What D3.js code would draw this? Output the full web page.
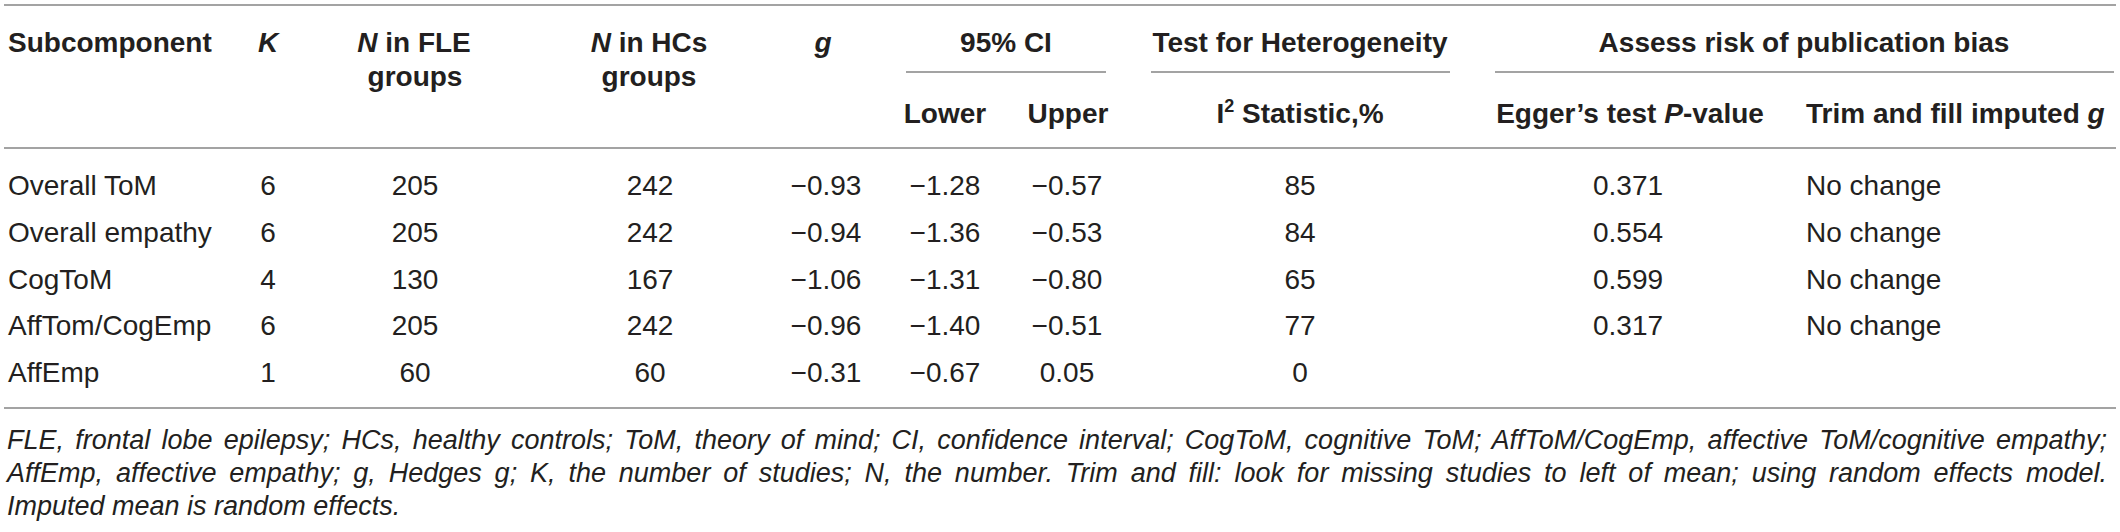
<!DOCTYPE html>
<html>
<head>
<meta charset="utf-8">
<script src="https://cdn.jsdelivr.net/npm/d3@7"></script>
<style>
  body { margin: 0; background: #fff; }
  svg { display: block; font-family: "Liberation Sans", Arial, sans-serif; }
</style>
</head>
<body>
<svg id="tbl" width="2120" height="532"></svg>
<script>
// table values
var subcomponents = ["Overall ToM", "Overall empathy", "CogToM", "AffTom/CogEmp", "AffEmp"];
var kStudies = [6, 6, 4, 6, 1];
var nFLE = [205, 205, 130, 205, 60];
var nHC = [242, 242, 167, 242, 60];
var gValues = [-0.93, -0.94, -1.06, -0.96, -0.31];
var ciLower = [-1.28, -1.36, -1.31, -1.40, -0.67];
var ciUpper = [-0.57, -0.53, -0.80, -0.51, 0.05];
var i2Values = [85, 84, 65, 77, 0];
var eggerP = ["0.371", "0.554", "0.599", "0.317", ""];
var trimFill = ["No change", "No change", "No change", "No change", ""];

var footnotes = [
  "FLE, frontal lobe epilepsy; HCs, healthy controls; ToM, theory of mind; CI, confidence interval; CogToM, cognitive ToM; AffToM/CogEmp, affective ToM/cognitive empathy;",
  "AffEmp, affective empathy; g, Hedges g; K, the number of studies; N, the number. Trim and fill: look for missing studies to left of mean; using random effects model.",
  "Imputed mean is random effects."
];

var svg = d3.select("#tbl");
var ink = "#231f20", rule = "#a3a3a3";
var fmt = d3.format(".2f");

// row positions (baselines)
var y = d3.scaleLinear().domain([0, subcomponents.length - 1]).range([195, 382]);

// columns: x anchor + alignment
var cols = [
  {x: 8,    anchor: "start",  vals: subcomponents},
  {x: 268,  anchor: "middle", vals: kStudies},
  {x: 415,  anchor: "middle", vals: nFLE},
  {x: 650,  anchor: "middle", vals: nHC},
  {x: 826,  anchor: "middle", vals: gValues.map(fmt)},
  {x: 945,  anchor: "middle", vals: ciLower.map(fmt)},
  {x: 1067, anchor: "middle", vals: ciUpper.map(fmt)},
  {x: 1300, anchor: "middle", vals: i2Values},
  {x: 1628, anchor: "middle", vals: eggerP},
  {x: 1806, anchor: "start",  vals: trimFill}
];

// horizontal rules
function hline(x1, x2, yy) {
  svg.append("line").attr("x1", x1).attr("x2", x2).attr("y1", yy).attr("y2", yy)
    .attr("stroke", rule).attr("stroke-width", 2);
}
hline(4, 2116, 5);
hline(906, 1106, 72);
hline(1151, 1450, 72);
hline(1495, 2114, 72);
hline(4, 2116, 148);
hline(4, 2116, 408);

// header cells: array of [text, italic] pieces
function headCell(x, yy, pieces, anchor) {
  var t = svg.append("text").attr("x", x).attr("y", yy)
    .attr("text-anchor", anchor || "middle")
    .attr("font-size", 28).attr("font-weight", "bold").attr("fill", ink);
  pieces.forEach(function(p) {
    var s = t.append("tspan").text(p[0]);
    if (p[1] === "i") s.attr("font-style", "italic");
    if (p[1] === "sup") s.attr("font-size", 18).attr("dy", -11);
    if (p[1] === "after") s.attr("dy", 11);
  });
  return t;
}
headCell(8, 52, [["Subcomponent"]], "start");
headCell(268, 52, [["K", "i"]]);
headCell(414, 52, [["N", "i"], [" in FLE"]]);
headCell(415, 86, [["groups"]]);
headCell(649, 52, [["N", "i"], [" in HCs"]]);
headCell(649, 86, [["groups"]]);
headCell(823, 52, [["g", "i"]]);
headCell(1006, 52, [["95% CI"]]);
headCell(1300, 52, [["Test for Heterogeneity"]]);
headCell(1804, 52, [["Assess risk of publication bias"]]);
headCell(945, 123, [["Lower"]]);
headCell(1068, 123, [["Upper"]]);
headCell(1300, 123, [["I"], ["2", "sup"], [" Statistic,%", "after"]]);
headCell(1630, 123, [["Egger\u2019s test "], ["P", "i"], ["-value"]]);
headCell(1806, 123, [["Trim and fill imputed "], ["g", "i"]], "start");

// body cells
cols.forEach(function(c) {
  svg.append("g").selectAll("text")
    .data(c.vals)
    .join("text")
    .attr("x", c.x)
    .attr("y", function(d, i) { return y(i); })
    .attr("text-anchor", c.anchor)
    .attr("font-size", 28)
    .attr("fill", ink)
    .text(function(d) { return d; });
});

// footnote, first two lines justified
var fy = d3.scaleLinear().domain([0, 2]).range([449, 515]);
svg.append("g").selectAll("text")
  .data(footnotes)
  .join("text")
  .attr("x", 7)
  .attr("y", function(d, i) { return fy(i); })
  .attr("font-size", 27)
  .attr("font-style", "italic")
  .attr("fill", ink)
  .text(function(d) { return d; })
  .each(function(d, i) {
    if (i > 1) return;
    var w = this.getComputedTextLength();
    var gaps = d.split(" ").length - 1;
    var extra = (2100 - w) / gaps;
    d3.select(this).attr("word-spacing", extra);
  });
</script>
</body>
</html>
